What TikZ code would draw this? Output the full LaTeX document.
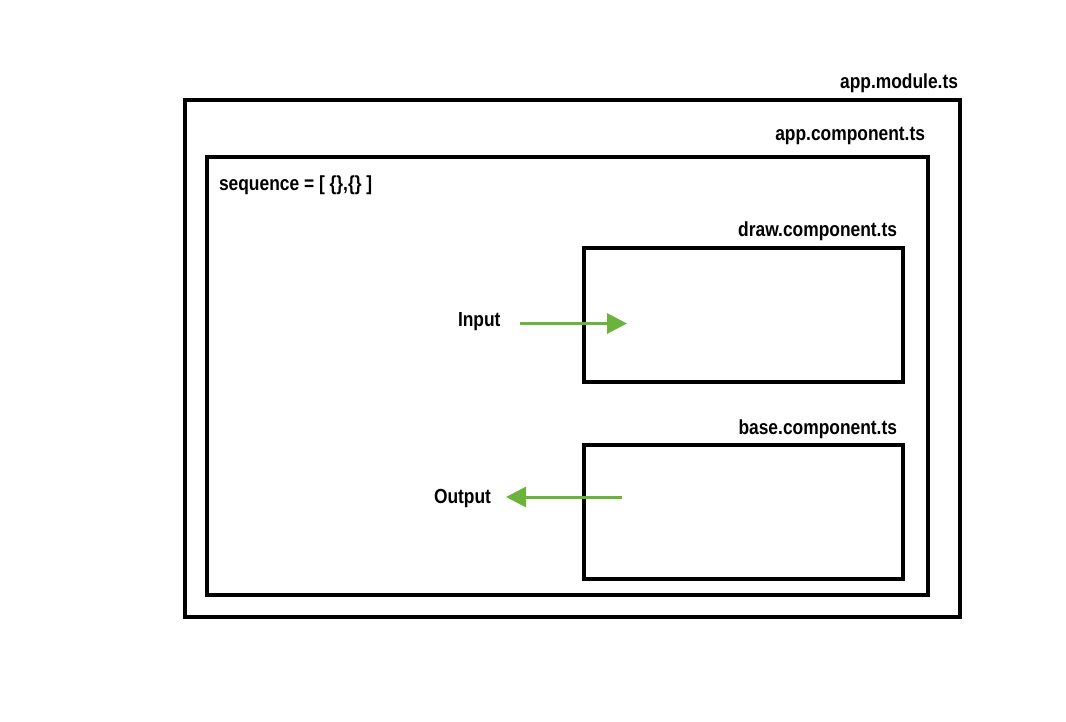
\documentclass[tikz,border=0pt]{standalone}
\usepackage{fontspec}
\usepackage{graphicx}
\setmainfont{Liberation Sans}
\usetikzlibrary{arrows.meta}
\definecolor{arrowgreen}{HTML}{6CB33E}
\newcommand\lbl[1]{\scalebox{0.94}[1.1]{#1}}
\begin{document}
\begin{tikzpicture}[x=1pt,y=-1pt,
  box/.style={draw=black,line width=4pt,fill=none,inner sep=0pt,outer sep=0pt},
  lab/.style={inner sep=0pt,outer sep=0pt,font=\fontsize{18.5}{20}\selectfont\bfseries},
  flow/.style={draw=arrowgreen,line width=3pt,-{Triangle[length=20pt,width=20pt]}}]
\useasboundingbox[fill=white] (0,0) rectangle (1066,722);
% boxes (line centers)
\node[box,minimum width=775pt,minimum height=517pt] (module) at (572.5,358.5) {};
\node[box,minimum width=721pt,minimum height=438pt] (appcomp) at (567.5,376) {};
\node[box,minimum width=319pt,minimum height=134pt] (draw) at (743.5,315) {};
\node[box,minimum width=319pt,minimum height=134pt] (base) at (743.5,512) {};
% labels
\node[lab,anchor=base east] (modlab) at (958,89) {\lbl{app.module.ts}};
\node[lab,anchor=base east] (complab) at (925,141) {\lbl{app.component.ts}};
\node[lab,anchor=base west] (seq) at (219,191) {\lbl{sequence = [ \{\},\{\} ]}};
\node[lab,anchor=base east] (drawlab) at (897,237) {\lbl{draw.component.ts}};
\node[lab,anchor=base east] (baselab) at (897,434) {\lbl{base.component.ts}};
\node[lab,anchor=base west] (input) at (458,326) {\lbl{Input}};
\node[lab,anchor=base west] (output) at (434,503) {\lbl{Output}};
% arrows
\coordinate (inS) at (520,323.5);
\coordinate (inE) at (627,323.5);
\coordinate (outS) at (622,497);
\coordinate (outE) at (506,497);
\draw[flow] (inS) -- (inE);
\draw[flow] (outS) -- (outE);
\end{tikzpicture}
\end{document}
